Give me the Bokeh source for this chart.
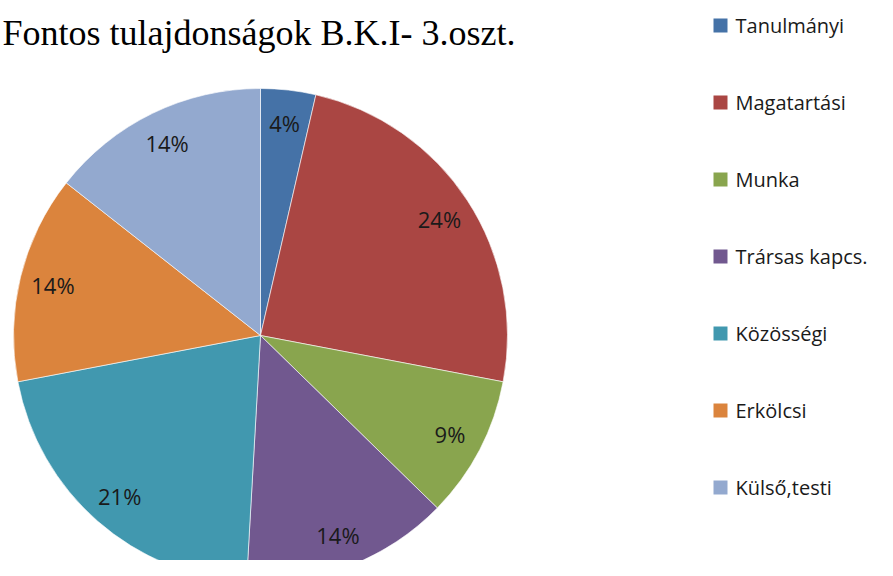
import numpy as np
from bokeh.plotting import figure
from bokeh.models import Range1d, ColumnDataSource
from bokeh.core.properties import value
from bokeh.embed import file_html
from bokeh.resources import INLINE

title_text = "Fontos tulajdonságok B.K.I- 3.oszt."
categories = ["Tanulmányi", "Magatartási", "Munka", "Trársas kapcs.",
              "Közösségi", "Erkölcsi", "Külső,testi"]
shares = [3.6, 24.4, 9.3, 13.6, 21.1, 13.6, 14.4]
colors = ["#4572A7", "#AA4643", "#89A54E", "#71588F", "#4198AF", "#DB843D", "#93A9CF"]

W, H = 877, 560
# data coordinates: x = picture x, y = 576 - picture y
p = figure(width=W, height=H, output_backend="svg", toolbar_location=None,
           x_range=Range1d(0, W), y_range=Range1d(576 - H, 576),
           min_border=0)
p.axis.visible = False
p.grid.visible = False
p.outline_line_color = None
p.background_fill_color = "white"
p.border_fill_color = "white"

cx, cy, R = 260, 576 - 335, 247
vals = np.array(shares, dtype=float)
frac = vals / vals.sum()
ends = np.cumsum(frac)
starts = ends - frac
start_ang = np.pi / 2 - 2 * np.pi * starts
end_ang = np.pi / 2 - 2 * np.pi * ends
mid = (start_ang + end_ang) / 2
labels = [f"{round(v)}%" for v in vals / vals.sum() * 100]

src = ColumnDataSource(dict(start=start_ang, end=end_ang, color=colors, cat=categories))
p.wedge(x=cx, y=cy, radius=R, start_angle="start", end_angle="end",
        direction="clock", fill_color="color", line_color="white", line_width=0.6,
        source=src)

lr = 0.865 * R
p.text(x=cx + lr * np.cos(mid), y=cy + lr * np.sin(mid), text=labels,
       text_align="center", text_baseline="middle", text_font=value("Open Sans"),
       text_font_size="22px", text_color="#1a1a1a")

# title
p.text(x=[2], y=[576 - 32], text=[title_text], text_align="left",
       text_baseline="alphabetic", text_font=value("Liberation Serif"),
       text_font_size="36px", text_color="black")

# legend
n = len(categories)
ly = 576 - (25 + 77 * np.arange(n))
p.rect(x=[720] * n, y=ly, width=14, height=14, fill_color=colors, line_color=None)
p.text(x=[735] * n, y=ly, text=categories, text_align="left", text_baseline="middle",
       text_font=value("Open Sans"), text_font_size="20px", text_color="#1a1a1a")

open("out.html", "w").write(file_html(p, INLINE))
